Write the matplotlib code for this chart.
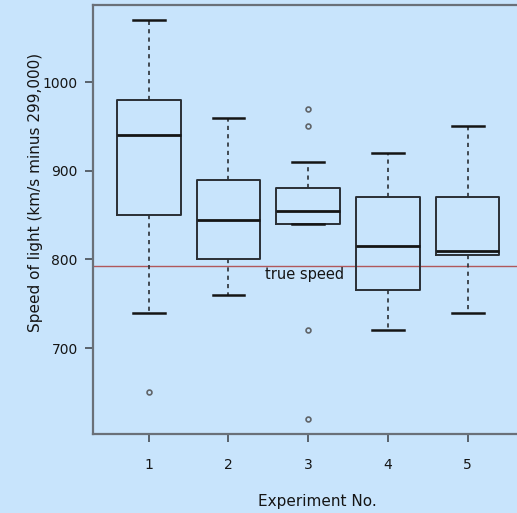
import matplotlib
matplotlib.use("Agg")
import matplotlib.pyplot as plt

experiments = [1, 2, 3, 4, 5]
whislo = [740, 760, 840, 720, 740]
q1 = [850, 800, 840, 765, 805]
med = [940, 845, 855, 815, 810]
q3 = [980, 890, 880, 870, 870]
whishi = [1070, 960, 910, 920, 950]
fliers = [[650], [], [970, 950, 720, 620], [], []]
true_speed = 792.458

bg = "#c8e4fc"
fig = plt.figure(figsize=(5.17, 5.13), dpi=100, facecolor=bg)
ax = fig.add_axes([93/517, 79/513, 432/517, 429/513], facecolor=bg)

stats = []
for i, e in enumerate(experiments):
    stats.append(dict(label=str(e), whislo=whislo[i], q1=q1[i], med=med[i],
                      q3=q3[i], whishi=whishi[i], fliers=fliers[i]))

ax.bxp(stats, positions=experiments, widths=0.8, showfliers=True,
       boxprops=dict(color="#2a2f35", linewidth=1.4),
       medianprops=dict(color="#151515", linewidth=2.0),
       whiskerprops=dict(color="#2a2f35", linewidth=1.2, linestyle=(0, (2.5, 2.5))),
       capprops=dict(color="#151515", linewidth=1.8),
       capwidths=0.4,
       flierprops=dict(marker="o", markersize=3.5, markerfacecolor="none",
                       markeredgecolor="#606468", markeredgewidth=1.2))

ax.axhline(true_speed, color="#b0585c", linewidth=1.0, zorder=1)
ax.text(2.46, true_speed - 9, "true speed", fontsize=10.5, ha="left", va="center",
        color="#151515")

ax.set_xlim(0.3, 5.72)
ax.set_ylim(603, 1087)
ax.set_yticks([700, 800, 900, 1000])
ax.set_xticks(experiments)
ax.set_xticklabels([str(e) for e in experiments])
ax.tick_params(axis="both", direction="out", length=6, width=1.3, color="#505860",
               labelsize=10, labelcolor="#151515")
ax.tick_params(axis="x", pad=11)
ax.tick_params(axis="y", pad=5)
for s in ax.spines.values():
    s.set_color("#6a7078")
    s.set_linewidth(1.6)

ax.set_xlabel("Experiment No.", fontsize=11, labelpad=16, color="#151515")
ax.set_ylabel("Speed of light (km/s minus 299,000)", fontsize=11, labelpad=0,
              color="#151515")
ax.xaxis.label.set_x(0.52)
ax.yaxis.label.set_y(0.564)

fig.savefig("out.png", dpi=100, facecolor=bg)
